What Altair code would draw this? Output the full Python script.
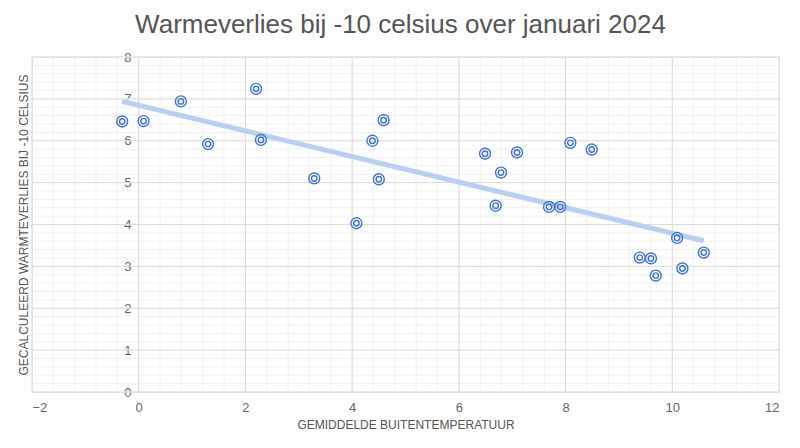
import altair as alt
import pandas as pd
import numpy as np

# data
temp = [-0.31, 0.09, 0.79, 1.30, 2.20, 2.29, 3.29, 4.08, 4.38, 4.50, 4.59,
        6.49, 7.09, 6.79, 6.69, 7.69, 7.90, 8.09, 8.49,
        10.09, 10.59, 9.39, 9.60, 9.69, 10.19]
loss = [6.46, 6.47, 6.94, 5.92, 7.24, 6.02, 5.10, 4.03, 6.00, 5.08, 6.49,
        5.69, 5.72, 5.24, 4.45, 4.42, 4.42, 5.95, 5.79,
        3.68, 3.33, 3.21, 3.19, 2.78, 2.95]

x_major = [-2, 0, 2, 4, 6, 8, 10, 12]
y_major = [0, 1, 2, 3, 4, 5, 6, 7, 8]
x_minor = [round(v, 1) for v in np.arange(-2, 12.001, 0.4)]
y_minor = [round(v, 1) for v in np.arange(0, 8.001, 0.2)]

df = pd.DataFrame({"t": temp, "w": loss})

FONT = "Liberation Sans"
BLUE = "#3f74d0"

xscale = alt.Scale(domain=[-2, 12], nice=False, zero=False)
yscale = alt.Scale(domain=[0, 8], nice=False, zero=False)

xaxis = alt.Axis(
    values=x_major,
    grid=False,
    domain=False,
    ticks=False,
    labelOverlap=False,
    labelFont=FONT, labelFontSize=13, labelColor="#666", labelPadding=9,
    title="GEMIDDELDE BUITENTEMPERATUUR",
    titleFont=FONT, titleFontSize=12, titleColor="#555", titleFontWeight="normal",
    titlePadding=5,
)
yaxis = alt.Axis(
    values=y_major,
    grid=False,
    domain=False,
    ticks=False,
    labelOverlap=False,
    labelFont=FONT, labelFontSize=13, labelColor="#666", labelPadding=8,
    offset=-107,
    title="GECALCULEERD WARMTEVERLIES BIJ -10 CELSIUS",
    titleFont=FONT, titleFontSize=12, titleColor="#555", titleFontWeight="normal",
    titleX=-109,
)

X = lambda f: alt.X(f, scale=xscale, axis=xaxis)
Y = lambda f: alt.Y(f, scale=yscale, axis=yaxis)

vminor = alt.Chart(pd.DataFrame({"v": x_minor})).mark_rule(color="#f1f1f1", strokeWidth=1).encode(x=X("v:Q"))
hminor = alt.Chart(pd.DataFrame({"v": y_minor})).mark_rule(color="#f1f1f1", strokeWidth=1).encode(y=Y("v:Q"))
vmajor = alt.Chart(pd.DataFrame({"v": x_major})).mark_rule(color="#dcdcdc", strokeWidth=1).encode(x=X("v:Q"))
hmajor = alt.Chart(pd.DataFrame({"v": y_major})).mark_rule(color="#dcdcdc", strokeWidth=1).encode(y=Y("v:Q"))

base = alt.Chart(df)

trend = base.transform_regression("t", "w").mark_line(
    color="#b9cff2", strokeWidth=5, strokeCap="butt"
).encode(x=X("t:Q"), y=Y("w:Q"))

outer = base.mark_point(shape="circle", size=120, filled=False, color=BLUE, strokeWidth=1.4, opacity=1).encode(
    x=X("t:Q"), y=Y("w:Q")
)
inner = base.mark_point(shape="circle", size=30, filled=False, color=BLUE, strokeWidth=1.4, opacity=1).encode(
    x=X("t:Q"), y=Y("w:Q")
)

chart = alt.layer(vminor, hminor, vmajor, hmajor, trend, outer, inner).properties(
    width=747, height=335,
    title=alt.TitleParams(
        "Warmeverlies bij -10 celsius over januari 2024",
        font=FONT, fontSize=26, color="#555", fontWeight="normal",
        anchor="middle", dx=-5, offset=13,
    ),
    autosize=alt.AutoSizeParams(type="none"),
    padding={"left": 24, "top": 49, "right": 13, "bottom": 48},
).configure_view(stroke="#dcdcdc", strokeWidth=1)

chart.save("out.html", embed_options={"renderer": "svg", "actions": False})
